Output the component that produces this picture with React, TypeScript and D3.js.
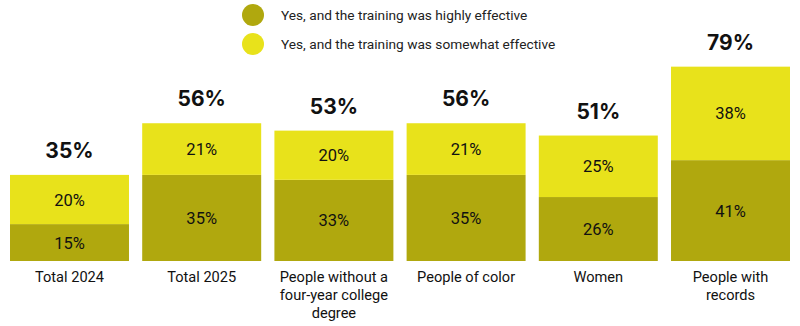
import React from "react";
import * as d3 from "d3";

const categories = [
  ["Total 2024"],
  ["Total 2025"],
  ["People without a", "four-year college", "degree"],
  ["People of color"],
  ["Women"],
  ["People with", "records"],
];
const highly = [15, 35, 33, 35, 26, 41];
const somewhat = [20, 21, 20, 21, 25, 38];
const totals = [35, 56, 53, 56, 51, 79];
const seriesNames = [
  "Yes, and the training was highly effective",
  "Yes, and the training was somewhat effective",
];
const colors = ["#b0a80e", "#e8e21b"];

const W = 800;
const H = 326;
const FONT = "Roboto, 'Noto Sans', sans-serif";
const BOLD = "Inter, Roboto, sans-serif";

export default function App() {
  const ids = categories.map((_, i) => String(i));
  const x = d3.scaleBand<string>().domain(ids).range([10, 790]).paddingInner(0.1).paddingOuter(0);
  const y = d3.scaleLinear().domain([0, 100]).range([261, 15]);
  const stack = d3.stack<number>().keys(["h", "s"]).value((i, k) => (k === "h" ? highly[i] : somewhat[i]));
  const series = stack(d3.range(categories.length));
  const vals = [highly, somewhat];

  return (
    <svg width={W} height={H} style={{ position: "absolute", left: 0, top: 0, background: "#fff" }} fontFamily={FONT}>
      {seriesNames.map((n, i) => (
        <g key={n} transform={`translate(0, ${15 + i * 29})`}>
          <circle cx={253} cy={0} r={11} fill={colors[i]} />
          <text x={281} y={5} fontSize={13.7} fill="#222">{n}</text>
        </g>
      ))}
      {series.map((s, si) => (
        <g key={si}>
          {s.map((d, i) => {
            const x0 = x(ids[i])!;
            const y0 = y(d[1]);
            const y1 = y(d[0]);
            return (
              <g key={i}>
                <rect x={x0} y={y0} width={x.bandwidth()} height={y1 - y0} fill={colors[si]} />
                <text x={x0 + x.bandwidth() / 2} y={(y0 + y1) / 2 + 6} textAnchor="middle" fontSize={16.5} fill="#111">
                  {vals[si][i]}%
                </text>
              </g>
            );
          })}
        </g>
      ))}
      {totals.map((t, i) => (
        <text key={i} x={x(ids[i])! + x.bandwidth() / 2} y={y(highly[i] + somewhat[i]) - 17} textAnchor="middle" fontSize={21} fontWeight={700} fontFamily={BOLD} fill="#111">
          {t}%
        </text>
      ))}
      {categories.map((lines, i) => (
        <text key={i} x={x(ids[i])! + x.bandwidth() / 2} y={282} textAnchor="middle" fontSize={14.6} fill="#111">
          {lines.map((l, j) => (
            <tspan key={j} x={x(ids[i])! + x.bandwidth() / 2} dy={j === 0 ? 0 : 18}>{l}</tspan>
          ))}
        </text>
      ))}
    </svg>
  );
}
